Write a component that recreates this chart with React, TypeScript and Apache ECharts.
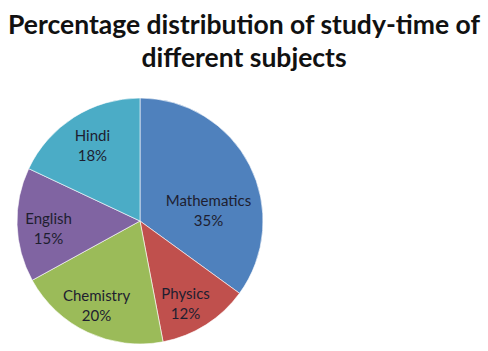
import React, { useEffect, useRef } from "react";
import * as echarts from "echarts";

const subjects = ["Mathematics", "Physics", "Chemistry", "English", "Hindi"];
const percents = [35, 12, 20, 15, 18];
const colors = ["#4F81BD", "#C0504D", "#9BBB59", "#8064A2", "#4BACC6"];
// label nudges from default inside position (to mimic source placement)
const labelDx = [11, 11, -16, -27, -13];
const labelDy = [18, 28, 26, 5, -22];

export default function App() {
  const ref = useRef<HTMLDivElement>(null);
  useEffect(() => {
    const chart = echarts.init(ref.current!, null, { renderer: "svg" });
    chart.setOption({
      animation: false,
      backgroundColor: "#ffffff",
      title: {
        text: "Percentage distribution of study-time of\ndifferent subjects",
        left: "center",
        top: 2,
        textStyle: {
          fontFamily: "Lato",
          fontWeight: "bold",
          fontSize: 26.5,
          lineHeight: 33,
          color: "#111111",
        },
      },
      series: [
        {
          type: "pie",
          center: [140, 221],
          radius: 123,
          startAngle: 90,
          clockwise: true,
          itemStyle: { borderColor: "#ffffff", borderWidth: 0.6 },
          label: {
            show: true,
            position: "inside",
            formatter: (p: any) => `${p.name}\n${p.value}%`,
            fontFamily: "Lato",
            fontSize: 15,
            lineHeight: 20,
            color: "#1e1e30",
            align: "center",
          },
          labelLayout: (p: any) => ({
            dx: labelDx[p.dataIndex],
            dy: labelDy[p.dataIndex],
          }),
          emphasis: { disabled: true },
          data: subjects.map((s, i) => ({
            name: s,
            value: percents[i],
            itemStyle: { color: colors[i] },
          })),
        },
      ],
    });
    return () => chart.dispose();
  }, []);
  return (
    <div
      ref={ref}
      style={{ position: "fixed", left: 0, top: 0, width: 488, height: 351 }}
    />
  );
}
